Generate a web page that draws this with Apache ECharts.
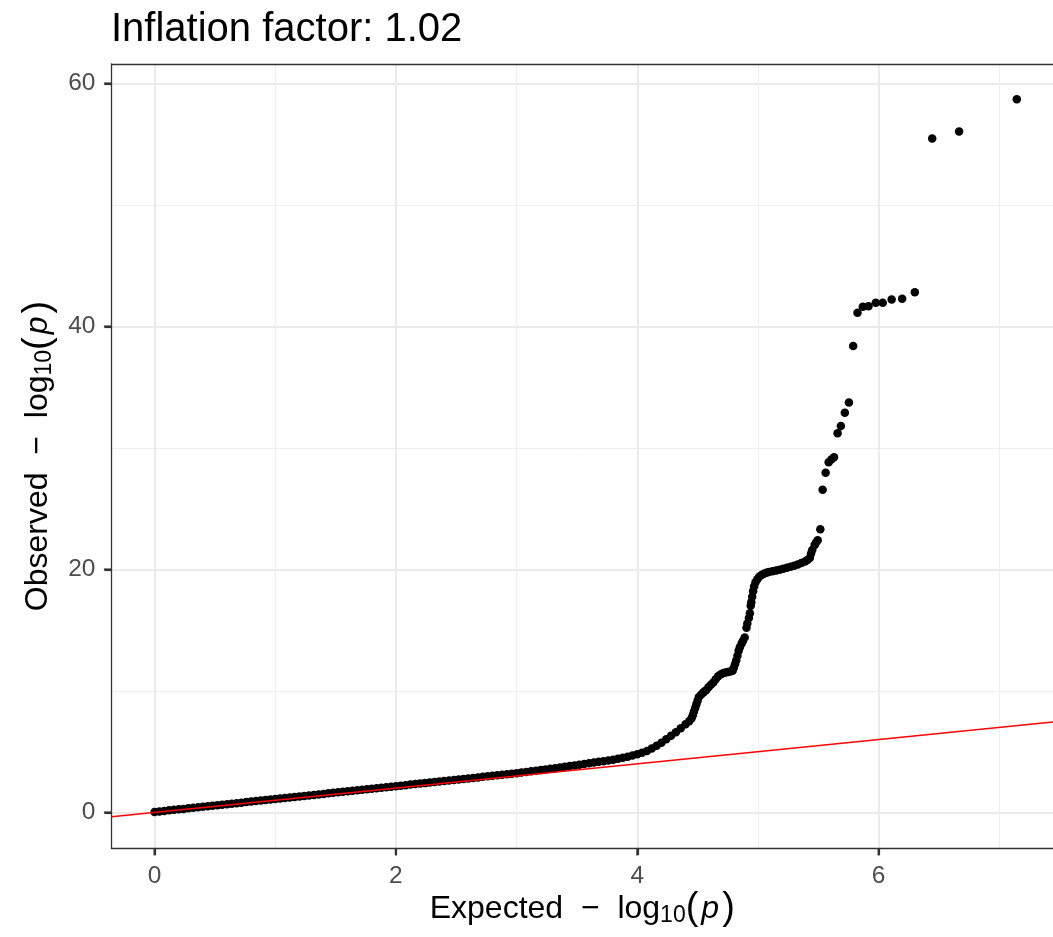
<!DOCTYPE html>
<html>
<head>
<meta charset="utf-8">
<title>QQ plot</title>
<script src="https://cdn.jsdelivr.net/npm/echarts@6/dist/echarts.min.js"></script>
<style>
  html, body { margin: 0; padding: 0; background: #ffffff; }
  #chart { width: 1053px; height: 937px; }
</style>
</head>
<body>
<div id="chart"></div>
<script>
// Expected vs observed -log10(p) for each test, ordered by expected value
const expectedVals = [
  0.00, 0.04, 0.08, 0.12, 0.16, 0.20, 0.24, 0.28, 0.32, 0.36,
  0.40, 0.44, 0.48, 0.52, 0.56, 0.60, 0.64, 0.68, 0.72, 0.76,
  0.80, 0.84, 0.88, 0.92, 0.96, 1.00, 1.04, 1.08, 1.12, 1.16,
  1.20, 1.24, 1.28, 1.32, 1.36, 1.40, 1.44, 1.48, 1.52, 1.56,
  1.60, 1.64, 1.68, 1.72, 1.76, 1.80, 1.84, 1.88, 1.92, 1.96,
  2.00, 2.04, 2.08, 2.12, 2.16, 2.20, 2.24, 2.28, 2.32, 2.36,
  2.40, 2.44, 2.48, 2.52, 2.56, 2.60, 2.64, 2.68, 2.72, 2.76,
  2.80, 2.84, 2.88, 2.92, 2.96, 3.00, 3.04, 3.08, 3.12, 3.16,
  3.20, 3.24, 3.28, 3.32, 3.36, 3.40, 3.44, 3.48, 3.52, 3.56,
  3.60, 3.64, 3.68, 3.72, 3.76, 3.80, 3.84, 3.88, 3.92, 3.96,
  4.00, 4.04, 4.08, 4.12, 4.16, 4.20, 4.24, 4.28, 4.32, 4.36,
  4.40, 4.43, 4.45, 4.46, 4.47, 4.48, 4.49, 4.50, 4.51, 4.53,
  4.55, 4.57, 4.59, 4.61, 4.63, 4.65, 4.67, 4.69, 4.71, 4.73,
  4.75, 4.77, 4.79, 4.80, 4.81, 4.82, 4.83, 4.84, 4.85, 4.865,
  4.875, 4.89, 4.905, 4.912, 4.925, 4.933, 4.94, 4.945, 4.952, 4.96,
  4.968, 4.98, 4.995, 5.01, 5.03, 5.05, 5.07, 5.09, 5.12, 5.15,
  5.18, 5.21, 5.24, 5.27, 5.30, 5.33, 5.36, 5.39, 5.41, 5.43,
  5.44, 5.45, 5.47, 5.48, 5.495, 5.517, 5.536, 5.561, 5.586, 5.608,
  5.63, 5.66, 5.687, 5.72, 5.754, 5.789, 5.825, 5.869, 5.916, 5.976,
  6.034, 6.108, 6.195, 6.30, 6.444, 6.667, 7.145
];
const observedVals = [
  0.04, 0.08, 0.12, 0.17, 0.21, 0.25, 0.29, 0.34, 0.38, 0.42,
  0.46, 0.51, 0.55, 0.59, 0.63, 0.68, 0.72, 0.76, 0.80, 0.85,
  0.89, 0.93, 0.97, 1.02, 1.06, 1.10, 1.14, 1.18, 1.23, 1.27,
  1.31, 1.35, 1.40, 1.44, 1.48, 1.52, 1.57, 1.61, 1.65, 1.69,
  1.74, 1.78, 1.82, 1.86, 1.91, 1.95, 1.99, 2.03, 2.08, 2.12,
  2.16, 2.20, 2.24, 2.29, 2.33, 2.37, 2.41, 2.46, 2.50, 2.54,
  2.58, 2.63, 2.67, 2.71, 2.75, 2.80, 2.84, 2.88, 2.93, 2.97,
  3.01, 3.06, 3.10, 3.14, 3.19, 3.23, 3.28, 3.33, 3.38, 3.43,
  3.48, 3.53, 3.59, 3.64, 3.70, 3.75, 3.81, 3.87, 3.92, 3.98,
  4.04, 4.10, 4.16, 4.22, 4.27, 4.33, 4.41, 4.49, 4.58, 4.68,
  4.79, 4.91, 5.06, 5.25, 5.48, 5.73, 6.02, 6.31, 6.60, 6.92,
  7.25, 7.50, 7.75, 8.00, 8.30, 8.60, 8.90, 9.20, 9.50, 9.70,
  9.90, 10.05, 10.30, 10.50, 10.70, 10.95, 11.20, 11.35, 11.45, 11.52,
  11.56, 11.60, 11.65, 11.90, 12.20, 12.50, 12.90, 13.30, 13.60, 13.90,
  14.10, 14.40, 15.20, 15.55, 16.00, 16.40, 17.00, 17.30, 17.75, 18.20,
  18.60, 18.95, 19.20, 19.40, 19.55, 19.65, 19.72, 19.78, 19.85, 19.92,
  19.98, 20.05, 20.13, 20.22, 20.30, 20.40, 20.52, 20.65, 20.78, 20.95,
  21.30, 21.60, 22.00, 22.20, 22.40, 23.30, 26.56, 27.96, 28.83, 29.05,
  29.24, 31.20, 31.80, 32.90, 33.74, 38.38, 41.13, 41.62, 41.67, 41.95,
  41.95, 42.22, 42.28, 42.82, 55.47, 56.05, 58.70
];

// Visible axis limits and tick positions
const xRange = [-0.357, 7.445];
const yRange = [-2.93, 61.6];
const xMajorTicks = [0, 2, 4, 6];
const xMinorTicks = [1, 3, 5, 7];
const yMajorTicks = [0, 20, 40, 60];
const yMinorTicks = [10, 30, 50];

const titleText = 'Inflation factor: 1.02';

const points = expectedVals.map((e, i) => [e, observedVals[i]]);
// Identity line y = x across the whole panel
const identityLine = [[xRange[0], xRange[0]], [xRange[1], xRange[1]]];
// Tick marks sitting on the bottom and left panel edges
const xTickMarks = xMajorTicks.map(v => [v, yRange[0]]);
const yTickMarks = yMajorTicks.map(v => [xRange[0], v]);

const FONT = "'Liberation Sans', Arial, Helvetica, sans-serif";
const FRAME = '#333333';
const TICK_LEN = 7;
const frameLine = { color: FRAME, width: 1.3 };
const gridMajor = { color: '#EBEBEB', width: 2 };
const gridMinor = { color: '#EFEFEF', width: 1 };

const axisTitleRich = {
  a: { fontSize: 32, fontFamily: FONT, color: '#000' },
  s: { fontSize: 23, fontFamily: FONT, color: '#000', padding: [13, 0, 0, 0] },
  b: { fontSize: 38, fontFamily: FONT, color: '#000' },
  i: { fontSize: 32, fontFamily: FONT, color: '#000', fontStyle: 'italic', padding: [0, 3, 0, 3] }
};

const tickLabelStyle = {
  margin: 16,
  fontSize: 24.5,
  color: '#4D4D4D',
  fontFamily: FONT
};

const chart = echarts.init(document.getElementById('chart'), null, { renderer: 'canvas' });

chart.setOption({
  animation: false,
  backgroundColor: '#ffffff',
  title: {
    text: titleText,
    left: 111,
    top: 10,
    padding: 0,
    textStyle: { fontSize: 40, fontWeight: 'normal', color: '#000', fontFamily: FONT }
  },
  grid: {
    left: 111.5,
    top: 64,
    right: 0,
    height: 784,
    outerBoundsMode: 'none',
    show: false
  },
  xAxis: [
    {
      type: 'value',
      position: 'bottom',
      min: xRange[0],
      max: xRange[1],
      axisLine: { show: true, onZero: false, lineStyle: frameLine },
      axisTick: {
        show: true, length: TICK_LEN,
        customValues: xMajorTicks,
        lineStyle: { color: FRAME, width: 2.2 }
      },
      axisLabel: Object.assign({ customValues: xMajorTicks }, tickLabelStyle),
      splitLine: { show: true, lineStyle: gridMajor },
      name: '{a|Expected  −  log}{s|10}{b|(}{i|p}{b|)}',
      nameLocation: 'middle',
      nameGap: 42,
      nameMoveOverlap: false,
      nameTextStyle: { rich: axisTitleRich }
    },
    {
      // top edge of the panel and the minor vertical grid lines
      type: 'value',
      position: 'top',
      min: xRange[0],
      max: xRange[1],
      axisLine: { show: true, onZero: false, lineStyle: frameLine },
      axisTick: { show: false, customValues: xMinorTicks },
      axisLabel: { show: false, customValues: xMinorTicks },
      splitLine: { show: true, lineStyle: gridMinor }
    }
  ],
  yAxis: [
    {
      type: 'value',
      position: 'left',
      min: yRange[0],
      max: yRange[1],
      axisLine: { show: true, onZero: false, lineStyle: frameLine },
      axisTick: {
        show: true, length: TICK_LEN,
        customValues: yMajorTicks,
        lineStyle: { color: FRAME, width: 2.2 }
      },
      axisLabel: Object.assign({ customValues: yMajorTicks }, tickLabelStyle),
      splitLine: { show: true, lineStyle: gridMajor },
      name: '{a|Observed  −  log}{s|10}{b|(}{i|p}{b|)}',
      nameLocation: 'middle',
      nameRotate: 90,
      nameGap: 54,
      nameMoveOverlap: false,
      nameTextStyle: { rich: axisTitleRich }
    },
    {
      // minor horizontal grid lines
      type: 'value',
      position: 'right',
      min: yRange[0],
      max: yRange[1],
      axisLine: { show: false, onZero: false },
      axisTick: { show: false, customValues: yMinorTicks },
      axisLabel: { show: false, customValues: yMinorTicks },
      splitLine: { show: true, lineStyle: gridMinor }
    }
  ],
  series: [
    {
      type: 'scatter',
      xAxisIndex: 0,
      yAxisIndex: 0,
      data: points,
      symbol: 'circle',
      symbolSize: 8.5,
      itemStyle: { color: '#000000', opacity: 1 },
      z: 3,
      silent: true
    },
    {
      type: 'line',
      xAxisIndex: 0,
      yAxisIndex: 0,
      data: identityLine,
      symbol: 'none',
      lineStyle: { color: '#FF0000', width: 1.4 },
      z: 4,
      silent: true
    },
    {
      // outward tick marks below the x axis
      type: 'scatter',
      xAxisIndex: 0,
      yAxisIndex: 0,
      data: xTickMarks,
      symbol: 'rect',
      symbolSize: [2.2, TICK_LEN],
      symbolOffset: [0, TICK_LEN / 2 + 0.6],
      itemStyle: { color: FRAME },
      clip: false,
      z: 10,
      silent: true
    },
    {
      // outward tick marks left of the y axis
      type: 'scatter',
      xAxisIndex: 0,
      yAxisIndex: 0,
      data: yTickMarks,
      symbol: 'rect',
      symbolSize: [TICK_LEN, 2.2],
      symbolOffset: [-(TICK_LEN / 2 + 0.6), 0],
      itemStyle: { color: FRAME },
      clip: false,
      z: 10,
      silent: true
    }
  ]
});
</script>
</body>
</html>
